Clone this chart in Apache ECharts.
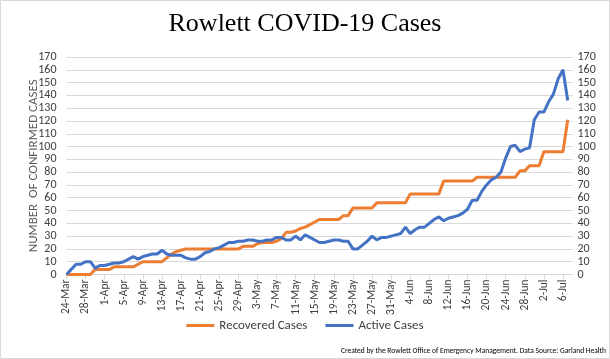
<!DOCTYPE html>
<html><head><meta charset="utf-8">
<script src="https://cdn.jsdelivr.net/npm/echarts@6/dist/echarts.min.js"></script>
<style>html,body{margin:0;padding:0;background:#fff}#c{width:610px;height:359px}</style>
</head><body><div id="c"></div>
<script>
// Dates: 24-Mar through 8-Jul (axis end); data runs 24-Mar .. 7-Jul
const monthNames = ['Jan','Feb','Mar','Apr','May','Jun','Jul','Aug'];
const startMonth = 2, startDay = 24, axisDays = 107;
const categories = [];
for (let i = 0; i < axisDays; i++) {
  const d = new Date(2020, startMonth, startDay + i);
  categories.push(d.getDate() + '-' + monthNames[d.getMonth()]);
}

const seriesNames = ['Recovered Cases', 'Active Cases'];

const recovered = [
  0,0,0,0,0,0, 4,4,4,4, 6,6,6,6,6, 8, 10,10,10,10,10,
  13,16,18,19,
  20,20,20,20,20,20,20,20,20,20,20,20,
  22,22,22, 24, 25,25,25, 26, 28, 33,33, 34, 36, 37, 39, 41,
  43,43,43,43,43, 46,46, 52,52,52,52,52,
  56,56,56,56,56,56,56, 63,63,63,63,63,63,63,
  73,73,73,73,73,73,73, 76,76,76,76,76,76,76,76,76,
  81,81, 85,85,85, 96,96,96,96,96, 121
];

const active = [
  0,4,8,8,10,10,5,7,7,8,
  9,9,10,12,14,12,14,15,16,16,
  19,16,15,15,15,13,12,12,14,17,
  18,20,21,23,25,25,26,26,27,27,
  26,26,27,27,29,29,27,27,30,27,
  31,29,27,25,25,26,27,27,26,26,
  20,20,23,26,30,27,29,29,30,31,
  32,37,32,35,37,37,40,43,45,42,
  44,45,46,48,51,58,58,65,70,74,
  76,80,91,100,101,96,98,99,121,127,
  127,135,141,153,160,136
];

const yMin = 0, yMax = 170, yStep = 10;
const footnote = 'Created by the Rowlett Office of Emergency Management. Data Source: Garland Health';
const titleText = 'Rowlett COVID-19 Cases';
const yAxisName = 'NUMBER  OF CONFIRMED CASES';

const font = 'Carlito, "Liberation Sans Narrow", "Liberation Sans", sans-serif';
const chart = echarts.init(document.getElementById('c'), null, {renderer: 'canvas'});
chart.setOption({
  animation: false,
  backgroundColor: '#fff',
  title: {
    text: titleText, left: 'center', top: 6,
    textStyle: {fontFamily: '"Liberation Serif", serif', fontSize: 26, fontWeight: 'normal', color: '#000'}
  },
  graphic: [
    {type: 'rect', shape: {x: 0.5, y: 0.5, width: 609, height: 358}, style: {fill: 'none', stroke: '#d9d9d9', lineWidth: 1}, silent: true},
    {type: 'text', right: 4, top: 347, style: {text: footnote, font: '7.5px ' + font, fill: '#000'}}
  ],
  legend: {
    data: seriesNames, bottom: 22, left: 'center', icon: 'rect', itemWidth: 28, itemHeight: 3, itemGap: 18,
    textStyle: {fontFamily: font, fontSize: 13, color: '#404040'}
  },
  grid: {left: 66.5, right: 37.5, top: 57, height: 217.5, containLabel: false},
  xAxis: {
    type: 'category', data: categories, boundaryGap: false,
    axisLine: {lineStyle: {color: '#d9d9d9', width: 1}},
    axisTick: {show: true, interval: 3, length: 5, lineStyle: {color: '#d9d9d9'}},
    axisLabel: {interval: 3, rotate: 90, margin: 5, fontFamily: font, fontSize: 11.5, color: '#404040'},
    splitLine: {show: false}
  },
  yAxis: [
    {type: 'value', min: yMin, max: yMax, interval: yStep, position: 'left',
     name: yAxisName, nameLocation: 'middle', nameGap: 26, nameRotate: 90, nameMoveOverlap: false,
     nameTextStyle: {fontFamily: font, fontSize: 13, color: '#595959'},
     axisLine: {show: false}, axisTick: {show: false},
     axisLabel: {margin: 10, fontFamily: font, fontSize: 12, color: '#404040'},
     splitLine: {lineStyle: {color: '#d9d9d9', width: 1}}},
    {type: 'value', min: yMin, max: yMax, interval: yStep, position: 'right',
     axisLine: {show: false}, axisTick: {show: false},
     axisLabel: {margin: 5, fontFamily: font, fontSize: 12, color: '#404040'},
     splitLine: {show: false}}
  ],
  series: [
    {name: seriesNames[0], type: 'line', data: recovered, showSymbol: false, symbol: 'none',
     lineStyle: {color: '#ED7D31', width: 3}, itemStyle: {color: '#ED7D31'}},
    {name: seriesNames[1], type: 'line', data: active, showSymbol: false, symbol: 'none',
     lineStyle: {color: '#4472C4', width: 3}, itemStyle: {color: '#4472C4'}}
  ]
});
</script></body></html>
